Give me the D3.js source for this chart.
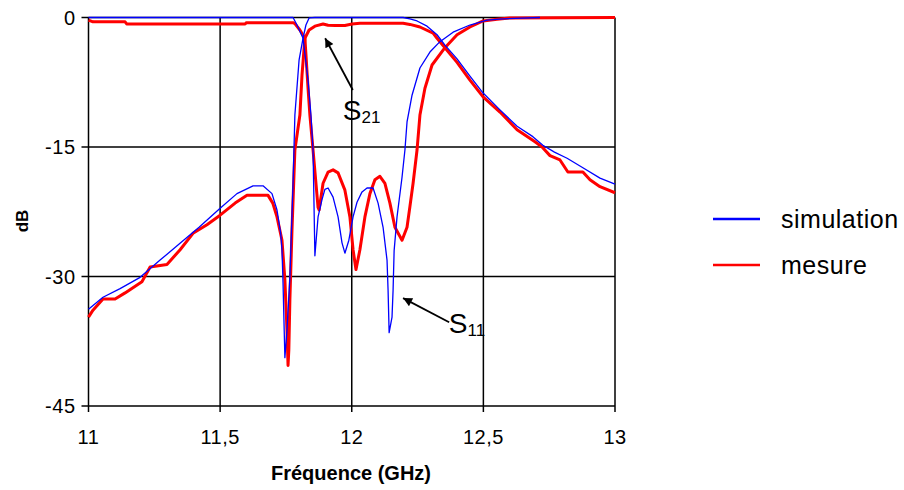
<!DOCTYPE html>
<html><head><meta charset="utf-8">
<script src="https://cdn.jsdelivr.net/npm/d3@7"></script>
<style>body{margin:0;background:#fff}svg{display:block}text{font-family:"Liberation Sans",Arial,sans-serif;fill:#000}</style>
</head><body><svg id="c" width="904" height="490"></svg>
<script>
// ---- data (frequency GHz, dB) ----
const xTickValues = [11, 11.5, 12, 12.5, 13];
const xTickLabels = ["11", "11,5", "12", "12,5", "13"];
const yTickValues = [0, -15, -30, -45];
const yTickLabels = ["0", "-15", "-30", "-45"];
const seriesNames = ["simulation", "mesure"];

const simS21 = [[11.0,-33.8],[11.055,-32.4],[11.12,-31.4],[11.196,-30.1],[11.272,-28.1],[11.35,-26.1],[11.42,-24.3],[11.5,-22.1],[11.564,-20.4],[11.625,-19.5],[11.663,-19.5],[11.697,-20.4],[11.716,-22.3],[11.73,-25.0],[11.735,-26.9],[11.739,-30.8],[11.746,-39.4],[11.754,-36.2],[11.765,-30.1],[11.777,-19.2],[11.784,-11.3],[11.8,-4.9],[11.815,-2.4],[11.826,-0.87],[11.838,-0.05],[11.86,0],[12.195,0],[12.221,-0.17],[12.248,-0.4],[12.286,-1.0],[12.324,-2.0],[12.354,-3.2],[12.4,-4.8],[12.449,-6.8],[12.499,-8.75],[12.563,-10.7],[12.628,-12.6],[12.688,-13.8],[12.726,-14.8],[12.77,-15.6],[12.818,-16.3],[12.878,-17.4],[12.943,-18.6],[13.0,-19.3]];

const simS11 = [[11.0,0],[11.777,0],[11.792,-0.87],[11.815,-2.4],[11.834,-7.25],[11.845,-11.3],[11.853,-15.35],[11.86,-27.6],[11.872,-23.1],[11.887,-21.1],[11.898,-19.9],[11.91,-19.75],[11.929,-20.8],[11.948,-23.1],[11.963,-26.1],[11.974,-27.3],[11.989,-25.8],[12.005,-23.1],[12.02,-21.4],[12.039,-20.2],[12.058,-19.75],[12.081,-19.75],[12.1,-21.5],[12.119,-24.3],[12.134,-28.1],[12.138,-31.6],[12.142,-36.5],[12.153,-34.7],[12.157,-31.6],[12.161,-27.0],[12.172,-23.1],[12.191,-18.5],[12.202,-15.35],[12.21,-12.1],[12.229,-9.0],[12.259,-5.85],[12.297,-4.0],[12.335,-2.8],[12.385,-1.7],[12.449,-0.87],[12.514,-0.3],[12.575,-0.15],[12.715,0]];

const mesS21 = [[11.0,-34.7],[11.017,-33.9],[11.055,-32.6],[11.101,-32.6],[11.139,-31.9],[11.203,-30.6],[11.234,-28.9],[11.298,-28.6],[11.348,-26.9],[11.397,-25.0],[11.45,-24.0],[11.5,-22.9],[11.557,-21.5],[11.602,-20.6],[11.682,-20.6],[11.7,-21.5],[11.716,-23.1],[11.735,-25.8],[11.746,-30.4],[11.754,-36.2],[11.758,-40.3],[11.761,-38.5],[11.765,-32.7],[11.773,-24.6],[11.784,-15.35],[11.803,-11.3],[11.811,-6.7],[11.822,-2.4],[11.838,-1.45],[11.86,-1.0],[11.891,-0.75],[11.91,-0.9],[11.937,-0.93],[11.974,-0.93],[12.001,-0.75],[12.031,-0.67],[12.195,-0.67],[12.221,-0.8],[12.259,-1.1],[12.309,-1.8],[12.324,-2.4],[12.354,-3.5],[12.4,-5.2],[12.449,-7.25],[12.499,-9.2],[12.563,-10.95],[12.628,-13.0],[12.696,-14.4],[12.723,-15.0],[12.753,-16.0],[12.791,-16.5],[12.821,-17.9],[12.878,-17.9],[12.905,-18.8],[12.943,-19.6],[13.0,-20.3]];

const mesS11 = [[11.0,-0.3],[11.017,-0.5],[11.139,-0.5],[11.145,-0.75],[11.595,-0.75],[11.6,-0.6],[11.777,-0.6],[11.784,-0.7],[11.803,-1.45],[11.822,-2.4],[11.826,-4.3],[11.834,-8.2],[11.841,-11.3],[11.853,-15.35],[11.872,-22.0],[11.876,-22.3],[11.891,-19.2],[11.91,-17.9],[11.929,-17.65],[11.948,-18.0],[11.974,-20.0],[11.993,-23.1],[12.005,-26.9],[12.016,-29.2],[12.031,-26.9],[12.05,-23.1],[12.069,-20.4],[12.088,-18.8],[12.107,-18.4],[12.126,-19.2],[12.145,-21.5],[12.164,-24.3],[12.191,-25.8],[12.21,-24.3],[12.221,-21.9],[12.233,-19.2],[12.248,-15.35],[12.259,-11.3],[12.278,-8.2],[12.305,-5.5],[12.354,-3.5],[12.4,-2.0],[12.449,-1.1],[12.499,-0.4],[12.552,-0.2],[12.6,-0.05],[13.0,0]];

const annotations = [
  {main:"S", sub:"21", at:[11.899,-2.4], from:[12.004,-8.4]},
  {main:"S", sub:"11", at:[12.195,-32.5], from:[12.37,-35.3]}
];

// ---- drawing ----
const svg = d3.select("#c");
const x = d3.scaleLinear().domain([11, 13]).range([88.5, 615]);
const y = d3.scaleLinear().domain([0, -45]).range([17.5, 406]);

const defs = svg.append("defs");
defs.append("marker").attr("id","arr").attr("viewBox","0 0 10 10").attr("refX",10).attr("refY",5)
  .attr("markerWidth",13).attr("markerHeight",9).attr("markerUnits","userSpaceOnUse").attr("orient","auto")
  .append("path").attr("d","M0,0L10,5L0,10z").attr("fill","#000");

// grid
const grid = svg.append("g");
grid.selectAll("line.v").data(xTickValues).join("line")
  .attr("x1", d => x(d)).attr("x2", d => x(d)).attr("y1", y(0)).attr("y2", y(-45) + 6)
  .attr("stroke", "#000").attr("stroke-width", 1.5);
grid.selectAll("line.h").data(yTickValues).join("line")
  .attr("x1", x(11) - 7).attr("x2", x(13)).attr("y1", d => y(d)).attr("y2", d => y(d))
  .attr("stroke", "#000").attr("stroke-width", 1.5);

// tick labels
svg.append("g").selectAll("text").data(yTickValues).join("text")
  .attr("x", x(11) - 13).attr("y", d => y(d)).attr("dy", "0.36em").attr("text-anchor","end")
  .attr("font-size", 20).attr("letter-spacing", 0.5).text((d,i) => yTickLabels[i]);
svg.append("g").selectAll("text").data(xTickValues).join("text")
  .attr("x", d => x(d)).attr("y", 444).attr("text-anchor","middle")
  .attr("font-size", 20).attr("letter-spacing", 0.5).text((d,i) => xTickLabels[i]);

svg.append("text").attr("x", 351).attr("y", 480).attr("text-anchor","middle")
  .attr("font-size", 20).attr("font-weight","bold").text("Fréquence (GHz)");
svg.append("text").attr("transform","translate(28,221) rotate(-90)").attr("text-anchor","middle")
  .attr("font-size", 17).attr("font-weight","bold").text("dB");

// curves
const line = d3.line().x(d => x(d[0])).y(d => y(d[1]));
const curves = [
  {data: mesS11, color: "#ff0000", w: 3},
  {data: mesS21, color: "#ff0000", w: 3},
  {data: simS11, color: "#0000ff", w: 1.3},
  {data: simS21, color: "#0000ff", w: 1.3}
];
svg.append("g").selectAll("path").data(curves).join("path")
  .attr("d", d => line(d.data)).attr("fill","none")
  .attr("stroke", d => d.color).attr("stroke-width", d => d.w).attr("stroke-linejoin","round");

// annotations
annotations.forEach(a => {
  svg.append("line").attr("x1", x(a.from[0])).attr("y1", y(a.from[1]))
    .attr("x2", x(a.at[0])).attr("y2", y(a.at[1]))
    .attr("stroke","#000").attr("stroke-width",1.8).attr("marker-end","url(#arr)");
});
const lab = [{t: annotations[0], px: x(12.0) - 9, py: y(-11.9)}, {t: annotations[1], px: x(12.38) - 3, py: y(-36.6)}];
lab.forEach(l => {
  const tx = svg.append("text").attr("x", l.px).attr("y", l.py).attr("font-size", 28);
  tx.append("tspan").text(l.t.main);
  tx.append("tspan").attr("font-size", 17).attr("dy", 3).text(l.t.sub);
});

// legend
const lg = svg.append("g");
const lgColors = ["#0000ff", "#ff0000"];
seriesNames.forEach((n, i) => {
  const yy = 219 + i * 46;
  lg.append("line").attr("x1", 713).attr("x2", 760).attr("y1", yy).attr("y2", yy)
    .attr("stroke", lgColors[i]).attr("stroke-width", 2.5);
  lg.append("text").attr("x", 781).attr("y", yy).attr("dy","0.36em").attr("font-size", 25)
    .attr("letter-spacing", 0.5).text(n);
});
</script></body></html>
